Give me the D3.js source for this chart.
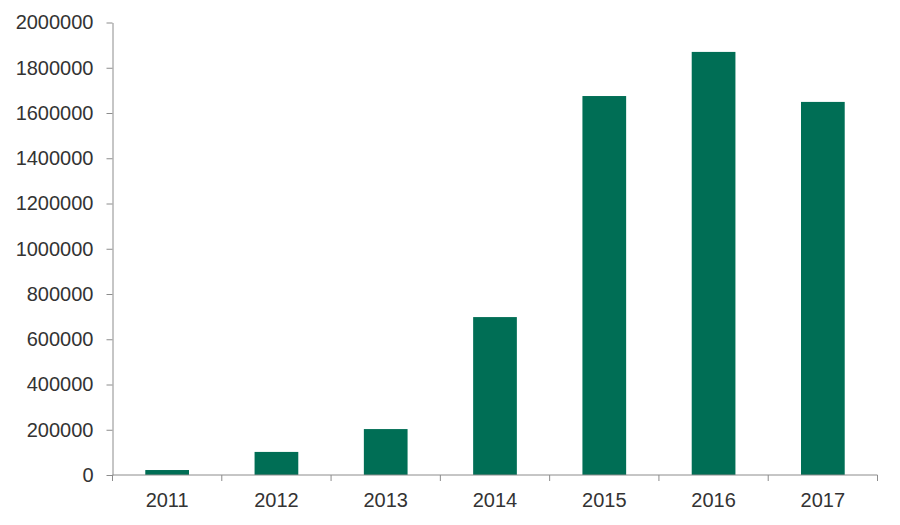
<!DOCTYPE html>
<html>
<head>
<meta charset="utf-8">
<script src="https://cdn.jsdelivr.net/npm/d3@7"></script>
<style>
  body { margin: 0; background: #fff; }
  svg { display: block; }
  text { font-family: "Liberation Sans", Arial, sans-serif; }
</style>
</head>
<body>
<svg id="chart" width="900" height="525"></svg>
<script>
const years = ["2011", "2012", "2013", "2014", "2015", "2016", "2017"];
const values = [22000, 102000, 203000, 698000, 1675000, 1870000, 1649000];
const yTicks = [0, 200000, 400000, 600000, 800000, 1000000, 1200000, 1400000, 1600000, 1800000, 2000000];

const svg = d3.select("#chart");
const mLeft = 112.5, mRight = 877.5, mTop = 22.5, mBottom = 475;

const x = d3.scaleBand().domain(years).range([mLeft, mRight]).paddingInner(0.6).paddingOuter(0.3);
const y = d3.scaleLinear().domain([0, 2000000]).range([mBottom, mTop]);

svg.append("g").selectAll("rect").data(values).join("rect")
  .attr("x", (d, i) => x(years[i]))
  .attr("width", x.bandwidth())
  .attr("y", d => y(d))
  .attr("height", d => y(0) - y(d))
  .attr("fill", "#006E55");

const axisColor = "#8c8c8c";
const textColor = "#333333";

const yAxis = svg.append("g").attr("transform", `translate(${mLeft},0)`)
  .call(d3.axisLeft(y).tickValues(yTicks).tickFormat(d3.format("d")).tickSizeInner(6).tickSizeOuter(0).tickPadding(13));
yAxis.select(".domain").attr("stroke", axisColor);
yAxis.selectAll(".tick line").attr("stroke", axisColor);
yAxis.selectAll("text").attr("fill", textColor).style("font-size", "20px");

// x axis with ticks at band boundaries
const xAxisG = svg.append("g").attr("transform", `translate(0,${mBottom})`);
xAxisG.append("line").attr("x1", mLeft).attr("x2", mRight).attr("y1", 0).attr("y2", 0).attr("stroke", axisColor);
const boundaries = years.map((yr, i) => mLeft + i * x.step());
boundaries.push(mRight);
xAxisG.selectAll("line.tk").data(boundaries).join("line").attr("class", "tk")
  .attr("x1", d => d).attr("x2", d => d).attr("y1", 0).attr("y2", 6).attr("stroke", axisColor);
xAxisG.selectAll("text").data(years).join("text")
  .attr("x", d => x(d) + x.bandwidth() / 2)
  .attr("y", 31.5)
  .attr("text-anchor", "middle")
  .attr("fill", textColor)
  .style("font-size", "20px")
  .text(d => d);
</script>
</body>
</html>
